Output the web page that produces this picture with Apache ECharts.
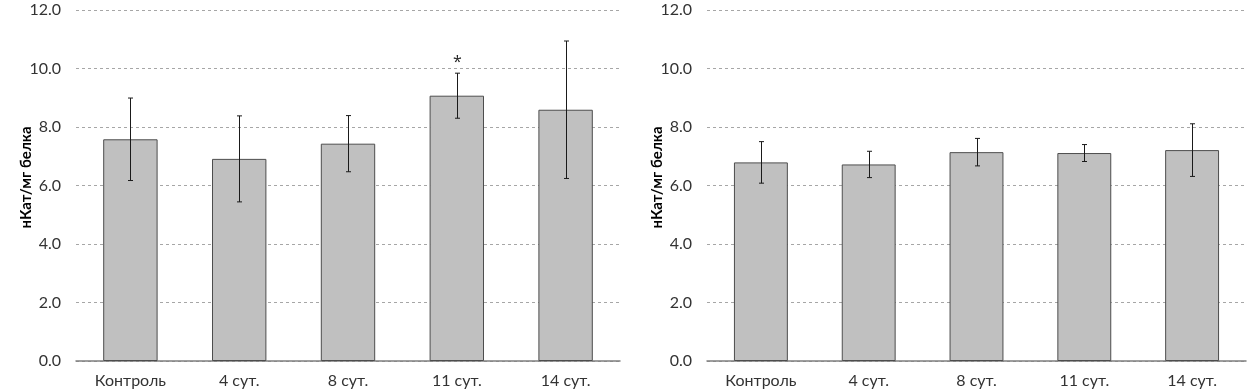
<!DOCTYPE html>
<html>
<head>
<meta charset="utf-8">
<script src="https://cdn.jsdelivr.net/npm/echarts@6/dist/echarts.min.js"></script>
<style>
  html, body { margin: 0; padding: 0; background: #fff; }
  #chart { width: 1258px; height: 392px; }
</style>
</head>
<body>
<div id="chart"></div>
<script>
    // data
    const categories = ['Контроль', '4 сут.', '8 сут.', '11 сут.', '14 сут.'];
    const yTicks = [0, 2, 4, 6, 8, 10, 12];

    const leftMeans = [7.58, 6.91, 7.43, 9.07, 8.59];
    const leftErrors = [1.41, 1.47, 0.96, 0.77, 2.35];
    const leftMarks = ['', '', '', '*', ''];

    const rightMeans = [6.79, 6.72, 7.14, 7.11, 7.21];
    const rightErrors = [0.71, 0.45, 0.47, 0.29, 0.9];
    const rightMarks = ['', '', '', '', ''];

    const yName = 'нКат/мг белка';
    const font = 'Lato, "Open Sans", sans-serif';
    const textColor = '#333';

    function errorRender(means, errors, marks) {
        return function (params, api) {
            const i = api.value(0);
            const top = api.coord([i, means[i] + errors[i]]);
            const bot = api.coord([i, means[i] - errors[i]]);
            const x = Math.round(top[0]) + 0.5;
            const cap = 2.5;
            const style = { stroke: '#1a1a1a', lineWidth: 1 };
            const children = [
                { type: 'line', shape: { x1: x, y1: top[1], x2: x, y2: bot[1] }, style: style },
                { type: 'line', shape: { x1: x - cap, y1: top[1], x2: x + cap, y2: top[1] }, style: style },
                { type: 'line', shape: { x1: x - cap, y1: bot[1], x2: x + cap, y2: bot[1] }, style: style }
            ];
            if (marks[i]) {
                children.push({
                    type: 'text',
                    style: {
                        text: marks[i], x: x, y: top[1] - 11,
                        align: 'center', verticalAlign: 'middle',
                        font: '16px "Open Sans", sans-serif', fill: '#222'
                    }
                });
            }
            return { type: 'group', children: children };
        };
    }

    function xAxisFor(idx) {
        return {
            type: 'category',
            gridIndex: idx,
            data: categories,
            axisTick: { show: false },
            axisLine: { lineStyle: { color: '#7f7f7f', width: 1.5 } },
            axisLabel: { color: textColor, fontSize: 16, fontFamily: font, margin: 12 }
        };
    }

    function yAxisFor(idx) {
        return {
            type: 'value',
            gridIndex: idx,
            min: 0,
            max: yTicks[yTicks.length - 1],
            interval: 2,
            name: yName,
            nameLocation: 'middle',
            nameRotate: 90,
            nameGap: 42,
            nameMoveOverlap: false,
            nameTextStyle: {
                color: '#000', fontSize: 15, fontWeight: 'bold', fontFamily: font,
                padding: [0, 0, 0, 16]
            },
            axisLine: { show: false },
            axisTick: { show: false },
            axisLabel: {
                color: textColor, fontSize: 16, fontFamily: font, margin: 15,
                formatter: function (v) { return v.toFixed(1); }
            },
            splitLine: { lineStyle: { color: '#a6a6a6', type: [3, 3], width: 1 } }
        };
    }

    function barSeries(idx, means) {
        return {
            type: 'bar',
            xAxisIndex: idx,
            yAxisIndex: idx,
            data: means,
            barWidth: '50%',
            itemStyle: { color: '#c0c0c0', borderColor: '#4d4d4d', borderWidth: 1 },
            silent: true,
            z: 2
        };
    }

    function errSeries(idx, means, errors, marks) {
        return {
            type: 'custom',
            xAxisIndex: idx,
            yAxisIndex: idx,
            data: means.map(function (m, i) { return [i, m]; }),
            renderItem: errorRender(means, errors, marks),
            silent: true,
            z: 5
        };
    }

    const chart = echarts.init(document.getElementById('chart'));
    chart.setOption({
        animation: false,
        backgroundColor: '#fff',
        grid: [
            { left: 76, top: 10, width: 544, height: 351 },
            { left: 707, top: 10, width: 539, height: 351 }
        ],
        xAxis: [xAxisFor(0), xAxisFor(1)],
        yAxis: [yAxisFor(0), yAxisFor(1)],
        series: [
            barSeries(0, leftMeans),
            errSeries(0, leftMeans, leftErrors, leftMarks),
            barSeries(1, rightMeans),
            errSeries(1, rightMeans, rightErrors, rightMarks)
        ]
    });
</script>
</body>
</html>
